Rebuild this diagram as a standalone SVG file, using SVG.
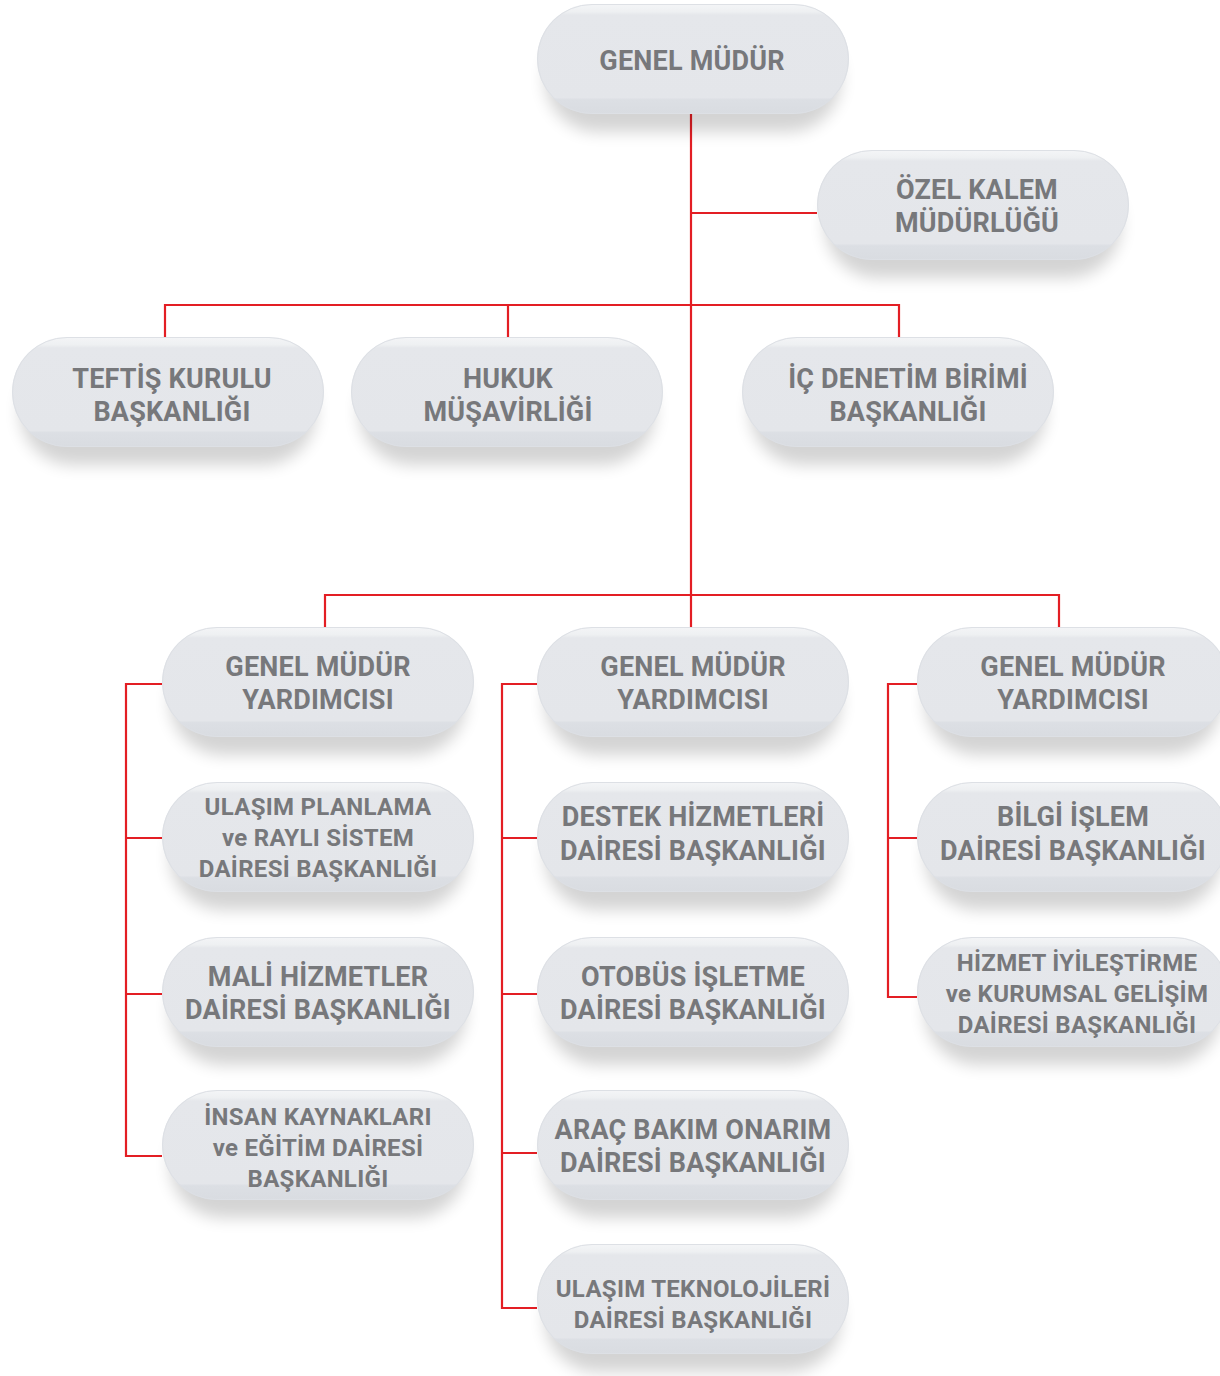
<svg xmlns="http://www.w3.org/2000/svg" xmlns:xlink="http://www.w3.org/1999/xlink" width="1220" height="1376" viewBox="0 0 1220 1376">
<defs>
<linearGradient id="pillFill" x1="0" y1="0" x2="0" y2="1">
<stop offset="0" stop-color="#f4f5f7"/>
<stop offset="0.07" stop-color="#eef0f2"/>
<stop offset="0.1" stop-color="#e5e7eb"/>
<stop offset="0.85" stop-color="#e4e6ea"/>
<stop offset="0.87" stop-color="#dcdfe4"/>
<stop offset="1" stop-color="#d9dce1"/>
</linearGradient>
<filter id="shadow" x="-20%" y="-30%" width="140%" height="180%">
<feGaussianBlur stdDeviation="8"/>
</filter>
<g id="pill">
<rect x="8" y="22" width="296" height="106" rx="53" fill="#000" opacity="0.17" filter="url(#shadow)"/>
<rect x="0" y="0" width="312" height="110" rx="55" fill="url(#pillFill)"/>
<rect x="0.5" y="0.5" width="311" height="109" rx="54.5" fill="none" stroke="#dde0e5" stroke-width="1"/>
</g>
</defs>
<style>
.conn{fill:none;stroke:#e31e24;stroke-width:2.2}
.t{font-family:Roboto,"Liberation Sans",sans-serif;font-weight:700;font-size:27px;letter-spacing:0.2px;fill:#77787b;text-anchor:middle}
.s{font-size:24px;letter-spacing:0.3px}
</style>
<g id="connectors">
<path class="conn" d="M691 114 V627"/>
<path class="conn" d="M691 213 H817"/>
<path class="conn" d="M165 337 V305 H899 V337 M508 305 V337"/>
<path class="conn" d="M325 627 V595 H1059 V627"/>
<path class="conn" d="M162 684 H126 V1156 H162 M126 838 H162 M126 994 H162"/>
<path class="conn" d="M537 684 H502 V1308 H537 M502 838 H537 M502 994 H537 M502 1153 H537"/>
<path class="conn" d="M917 684 H888 V997 H917 M888 838 H917"/>
</g>
<g id="n-genel-mudur"><use xlink:href="#pill" x="537" y="4"/><text class="t" x="692" y="70">GENEL MÜDÜR</text></g>
<g id="n-ozel-kalem"><use xlink:href="#pill" x="817" y="150"/><text class="t" x="977" y="199">ÖZEL KALEM</text><text class="t" x="977" y="232">MÜDÜRLÜĞÜ</text></g>
<g id="n-teftis"><use xlink:href="#pill" x="12" y="337"/><text class="t" x="172" y="388">TEFTİŞ KURULU</text><text class="t" x="172" y="421">BAŞKANLIĞI</text></g>
<g id="n-hukuk"><use xlink:href="#pill" x="351" y="337"/><text class="t" x="508" y="388">HUKUK</text><text class="t" x="508" y="421">MÜŞAVİRLİĞİ</text></g>
<g id="n-ic-denetim"><use xlink:href="#pill" x="742" y="337"/><text class="t" x="908" y="388">İÇ DENETİM BİRİMİ</text><text class="t" x="908" y="421">BAŞKANLIĞI</text></g>
<g id="n-gmy1"><use xlink:href="#pill" x="162" y="627"/><text class="t" x="318" y="676">GENEL MÜDÜR</text><text class="t" x="318" y="709">YARDIMCISI</text></g>
<g id="n-gmy2"><use xlink:href="#pill" x="537" y="627"/><text class="t" x="693" y="676">GENEL MÜDÜR</text><text class="t" x="693" y="709">YARDIMCISI</text></g>
<g id="n-gmy3"><use xlink:href="#pill" x="917" y="627"/><text class="t" x="1073" y="676">GENEL MÜDÜR</text><text class="t" x="1073" y="709">YARDIMCISI</text></g>
<g id="n-ulasim-planlama"><use xlink:href="#pill" x="162" y="782"/><text class="t s" x="318" y="815">ULAŞIM PLANLAMA</text><text class="t s" x="318" y="846">ve RAYLI SİSTEM</text><text class="t s" x="318" y="877">DAİRESİ BAŞKANLIĞI</text></g>
<g id="n-destek"><use xlink:href="#pill" x="537" y="782"/><text class="t" x="693" y="826">DESTEK HİZMETLERİ</text><text class="t" x="693" y="860">DAİRESİ BAŞKANLIĞI</text></g>
<g id="n-bilgi-islem"><use xlink:href="#pill" x="917" y="782"/><text class="t" x="1073" y="826">BİLGİ İŞLEM</text><text class="t" x="1073" y="860">DAİRESİ BAŞKANLIĞI</text></g>
<g id="n-mali"><use xlink:href="#pill" x="162" y="937"/><text class="t" x="318" y="986">MALİ HİZMETLER</text><text class="t" x="318" y="1019">DAİRESİ BAŞKANLIĞI</text></g>
<g id="n-otobus"><use xlink:href="#pill" x="537" y="937"/><text class="t" x="693" y="986">OTOBÜS İŞLETME</text><text class="t" x="693" y="1019">DAİRESİ BAŞKANLIĞI</text></g>
<g id="n-hizmet"><use xlink:href="#pill" x="917" y="937"/><text class="t s" x="1077" y="971">HİZMET İYİLEŞTİRME</text><text class="t s" x="1077" y="1002">ve KURUMSAL GELİŞİM</text><text class="t s" x="1077" y="1033">DAİRESİ BAŞKANLIĞI</text></g>
<g id="n-insan"><use xlink:href="#pill" x="162" y="1090"/><text class="t s" x="318" y="1125">İNSAN KAYNAKLARI</text><text class="t s" x="318" y="1156">ve EĞİTİM DAİRESİ</text><text class="t s" x="318" y="1187">BAŞKANLIĞI</text></g>
<g id="n-arac"><use xlink:href="#pill" x="537" y="1090"/><text class="t" x="693" y="1139">ARAÇ BAKIM ONARIM</text><text class="t" x="693" y="1172">DAİRESİ BAŞKANLIĞI</text></g>
<g id="n-ulasim-tekn"><use xlink:href="#pill" x="537" y="1244"/><text class="t s" x="693" y="1297">ULAŞIM TEKNOLOJİLERİ</text><text class="t s" x="693" y="1328">DAİRESİ BAŞKANLIĞI</text></g>
</svg>
